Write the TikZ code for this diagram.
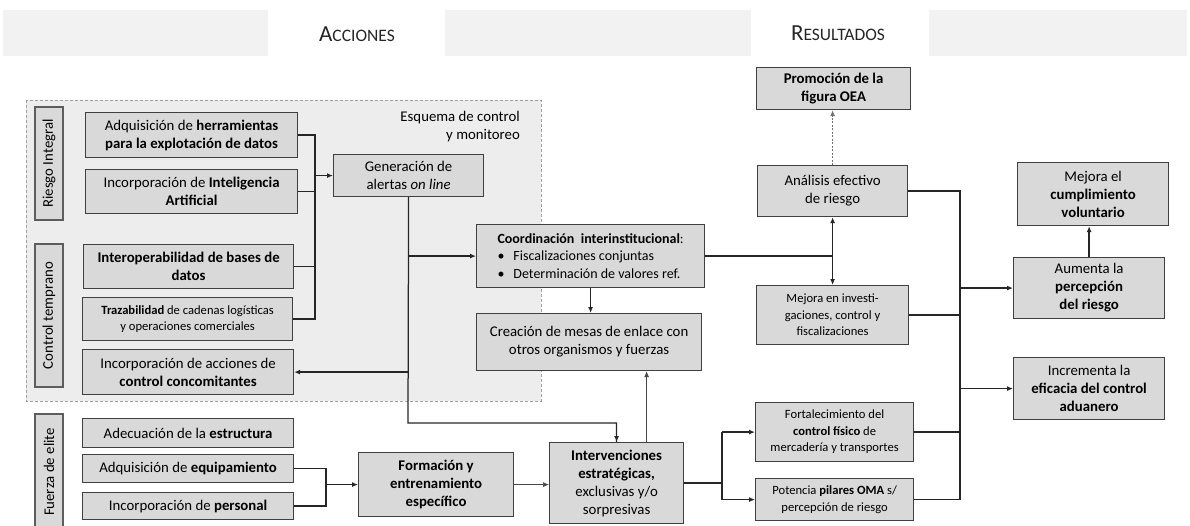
\documentclass[tikz,border=0pt]{standalone}
\usepackage{fontspec}
\setmainfont{Carlito}
\usetikzlibrary{arrows.meta}
\definecolor{boxfill}{HTML}{D9D9D9}
\definecolor{boxline}{HTML}{404040}
\definecolor{zonefill}{HTML}{EDEDED}
\definecolor{zoneline}{HTML}{A0A0A0}
\definecolor{bandfill}{HTML}{F2F2F2}
\definecolor{wire}{HTML}{262626}

\begin{document}
\begin{tikzpicture}[x=1pt,y=-1pt,
  box/.style={draw=boxline, fill=boxfill, line width=1.2pt, align=center,
    inner sep=1pt, anchor=north west, font=\fontsize{14.8}{18}\selectfont},
  smallbox/.style={box, font=\fontsize{12.6}{16.5}\selectfont},
  tag/.style={draw=boxline!85, fill=boxfill, line width=1.2pt, rotate=90,
    inner sep=0pt, minimum height=28pt, font=\fontsize{14.8}{16}\selectfont},
  bandtitle/.style={text=black!85},
  wire/.style={draw=wire, line width=1.25pt},
  arr/.style={wire, -{Latex[length=6pt,width=5pt]}},
  twoarr/.style={wire, {Latex[length=6pt,width=5pt]}-{Latex[length=6pt,width=5pt]}},
  thinarr/.style={draw=wire!85, line width=0.7pt, -{Latex[length=6pt,width=5pt]}},
  dotarr/.style={draw=black!55, line width=0.8pt, dash pattern=on 2pt off 1.5pt,
    -{Latex[length=6pt,width=5pt]}},
]
\useasboundingbox (0,0) rectangle (1190,525);
\clip (0,0) rectangle (1190,525);

% header band
\fill[bandfill] (3,10) rectangle (268,56);
\fill[bandfill] (445,10) rectangle (751,56);
\fill[bandfill] (929,10) rectangle (1187,56);
\node[bandtitle] (hacc) at (357,34) {\fontsize{23}{23}\selectfont A\fontsize{17.5}{17.5}\selectfont CCIONES};
\node[bandtitle] (hres) at (838,33) {\fontsize{23}{23}\selectfont R\fontsize{17.5}{17.5}\selectfont ESULTADOS};

% control and monitoring zone
\draw[fill=zonefill, draw=zoneline, line width=1pt, dash pattern=on 3pt off 2pt]
  (26,100) rectangle (541,401);
\node[anchor=north east, align=right, inner sep=0pt, font=\fontsize{14.8}{18}\selectfont]
  (esq) at (520,111) {Esquema de control\\y monitoreo};

% side tags
\node[tag, minimum width=113pt] (tagR) at (49,163.5) {Riesgo Integral};
\node[tag, minimum width=143pt] (tagC) at (49,315.5) {Control temprano};
\node[tag, minimum width=116pt] (tagF) at (49,472) {Fuerza de elite};

% actions
\node[box, minimum width=212pt, minimum height=45pt] (herr) at (85,112)
  {Adquisición de \textbf{herramientas}\\\textbf{para la explotación de datos}};
\node[box, minimum width=212pt, minimum height=44pt] (ia) at (85,169)
  {Incorporación de \textbf{Inteligencia}\\\textbf{Artificial}};
\node[box, minimum width=210pt, minimum height=44pt] (interop) at (83,244)
  {\textbf{Interoperabilidad de bases de}\\\textbf{datos}};
\node[smallbox, minimum width=210pt, minimum height=43pt] (traz) at (82,297)
  {\textbf{Trazabilidad} de cadenas logísticas\\y operaciones comerciales};
\node[box, minimum width=211pt, minimum height=45pt] (conc) at (82,349)
  {Incorporación de acciones de\\\textbf{control concomitantes}};
\node[box, minimum width=211pt, minimum height=29pt] (estr) at (82,418)
  {Adecuación de la \textbf{estructura}};
\node[box, minimum width=211pt, minimum height=28pt] (equip) at (82,454)
  {Adquisición de \textbf{equipamiento}};
\node[box, minimum width=211pt, minimum height=27pt] (pers) at (82,492)
  {Incorporación de \textbf{personal}};

\node[box, minimum width=150pt, minimum height=42pt] (gen) at (333,154)
  {Generación de\\alertas \textit{on line}};
\node[box, minimum width=228pt, minimum height=63pt, align=left, font=\fontsize{14}{17.5}\selectfont] (coord) at (476,224)
  {\textbf{Coordinación\ \ interinstitucional}:\\
   \textbullet\hspace{9pt}Fiscalizaciones conjuntas\\
   \textbullet\hspace{9pt}Determinación de valores ref.};
\node[box, minimum width=225pt, minimum height=57pt] (crea) at (476,313)
  {Creación de mesas de enlace con\\otros organismos y fuerzas};
\node[box, minimum width=155pt, minimum height=64pt] (form) at (358,452)
  {\textbf{Formación y}\\\textbf{entrenamiento}\\\textbf{específico}};
\node[box, minimum width=134pt, minimum height=81pt] (inter) at (549,442)
  {\textbf{Intervenciones}\\\textbf{estratégicas,}\\exclusivas y/o\\sorpresivas};

% results
\node[box, minimum width=154pt, minimum height=42pt] (prom) at (756,67)
  {\textbf{Promoción de la}\\\textbf{figura OEA}};
\node[box, minimum width=150pt, minimum height=51pt] (anal) at (757,165)
  {Análisis efectivo\\de riesgo};
\node[smallbox, minimum width=152pt, minimum height=59pt] (mejinv) at (756,285)
  {Mejora en investi-\\gaciones, control y\\fiscalizaciones};
\node[smallbox, minimum width=158pt, minimum height=59pt] (fort) at (755,402)
  {Fortalecimiento del\\\textbf{control físico} de\\mercadería y transportes};
\node[smallbox, minimum width=158pt, minimum height=42pt] (pot) at (755,478)
  {Potencia \textbf{pilares OMA} s/\\percepción de riesgo};
\node[box, minimum width=151pt, minimum height=63pt] (cump) at (1017,162)
  {Mejora el\\\textbf{cumplimiento}\\\textbf{voluntario}};
\node[box, minimum width=151pt, minimum height=61pt] (aum) at (1013,257)
  {Aumenta la\\\textbf{percepción}\\\textbf{del riesgo}};
\node[box, minimum width=151pt, minimum height=62pt] (incr) at (1013,357)
  {Incrementa la\\\textbf{eficacia del control}\\\textbf{aduanero}};

% bus columns
\coordinate (bA) at (315,0);
\coordinate (bF) at (326,0);
\coordinate (bI) at (722,0);
\coordinate (bR) at (960,0);
\coordinate (gturn) at (408,423);

% risk and early-control inputs to the alert generator
\draw[wire] (herr.east) -| (bA |- traz.east) -- (traz.east);
\draw[wire] (ia.east) -- (ia.east -| bA);
\draw[wire] (interop.east) -- (interop.east -| bA);
\draw[arr] (gen.west -| bA) -- (gen.west);

% alert generator outputs
\draw[wire] (gen.south) -- (gturn) -| (inter.north);
\draw[arr] (inter.north) ++(0,-1) -- (inter.north);
\draw[arr] (gen.south |- coord.west) -- (coord.west);
\draw[arr] (gen.south |- conc.east) -- (conc.east);

% coordination
\draw[arr] (coord.south) -- (coord.south |- crea.north);
\draw[wire] (coord.east) -- (coord.east -| anal.south);
\draw[twoarr] (anal.south) -- (mejinv.north);
\draw[dotarr] (anal.north) -- (anal.north |- prom.south);

% elite force
\draw[wire] (equip.east) -| (bF |- pers.east) -- (pers.east);
\draw[arr] (bF |- form.west) -- (form.west);
\draw[thinarr] (form.east) -- (form.east -| inter.west);
\draw[thinarr] ([xshift=30pt]inter.north) -- ([xshift=30pt]inter.north |- crea.south);
\draw[wire] (inter.east) -- (inter.east -| bI);
\draw[wire] (bI |- fort.west) -- (bI |- pot.west);
\draw[arr] (bI |- fort.west) -- (fort.west);
\draw[arr] (bI |- pot.west) -- (pot.west);

% results bus
\draw[wire] (anal.east) -| (bR |- pot.east) -- (pot.east);
\draw[wire] (mejinv.east) -- (mejinv.east -| bR);
\draw[wire] (fort.east) -- (fort.east -| bR);
\draw[arr] (bR |- aum.west) -- (aum.west);
\draw[arr] (bR |- incr.west) -- (incr.west);
\draw[arr] (aum.north) -- (aum.north |- cump.south);

\end{tikzpicture}
\end{document}
